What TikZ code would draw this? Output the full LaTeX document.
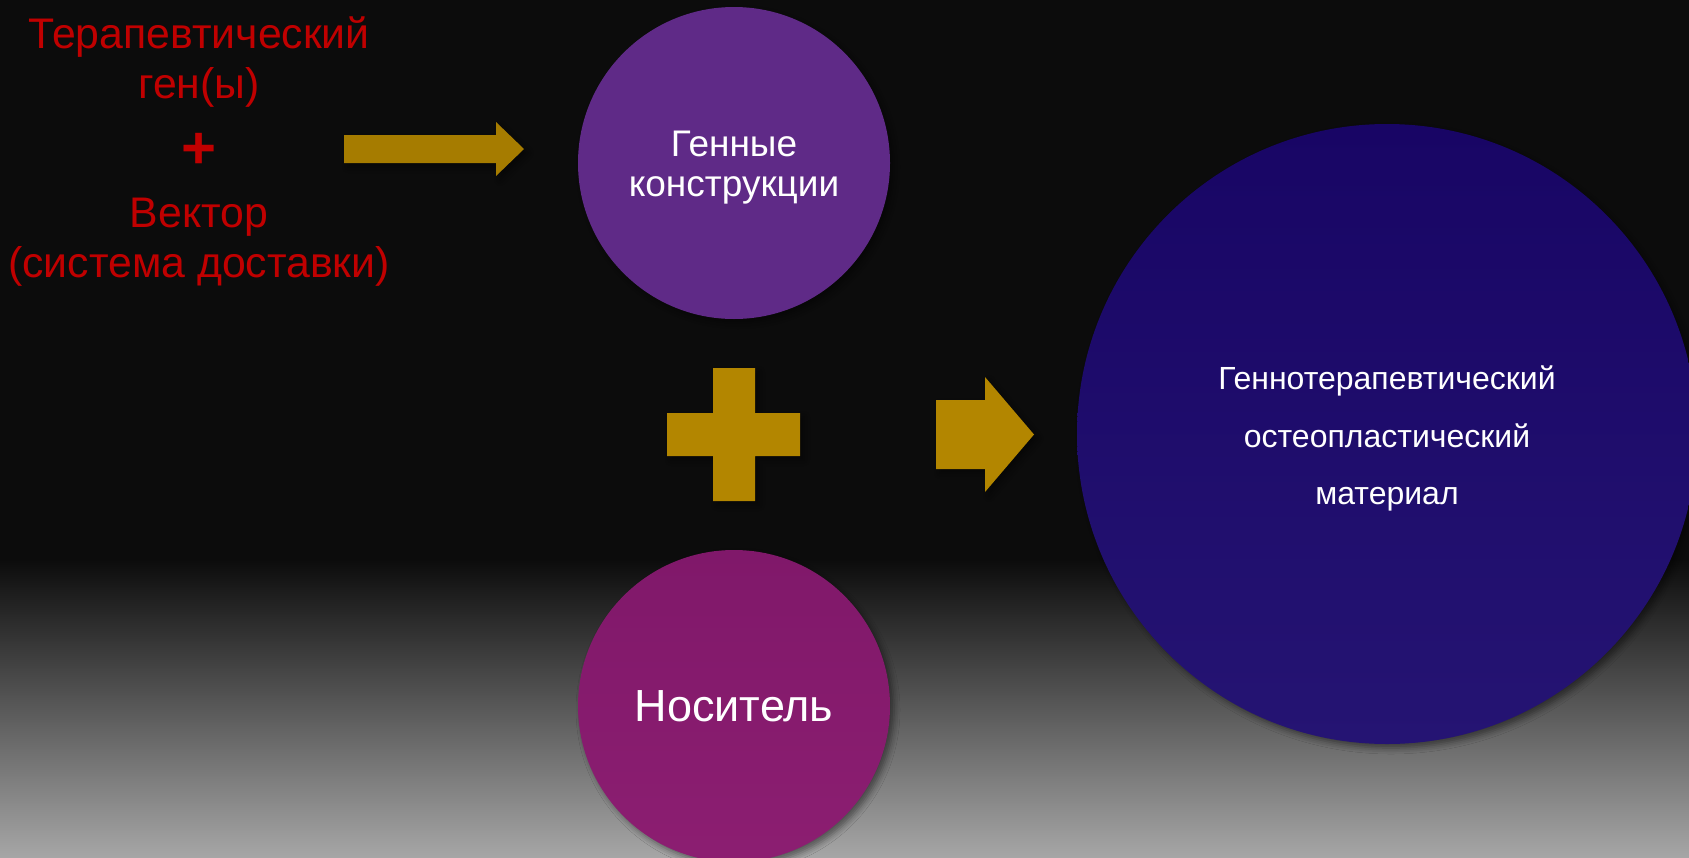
\documentclass[tikz,border=0pt]{standalone}
\usepackage{fontspec}
\setmainfont{Liberation Sans}
\usetikzlibrary{shadows.blur}
\definecolor{bgtop}{HTML}{0C0C0C}
\definecolor{bgbot}{HTML}{A6A6A6}
\definecolor{redtxt}{HTML}{C00000}
\definecolor{goldA}{HTML}{A67C00}
\definecolor{goldB}{HTML}{B38600}
\definecolor{purp}{HTML}{5F2A87}
\definecolor{magnA}{HTML}{80186A}
\definecolor{magnB}{HTML}{8C1E71}
\definecolor{navyA}{HTML}{180565}
\definecolor{navyB}{HTML}{251473}
\tikzset{
  softshadow/.style={blur shadow={shadow xshift=4pt, shadow yshift=-4pt, shadow blur radius=6pt, shadow opacity=45}},
  bubble/.style={circle, inner sep=0pt, softshadow},
  bubbletext/.style={text=white, align=center, inner sep=0pt},
  redline/.style={text=redtxt, inner sep=0pt, anchor=base, font=\fontsize{42.8}{50}\selectfont},
  blockshape/.style={softshadow}
}
\begin{document}
\begin{tikzpicture}[x=1pt,y=-1pt]
\useasboundingbox (0,0) rectangle (1689,857);
\clip (0,0) rectangle (1689,857);
% background
\fill[bgtop] (0,0) rectangle (1689,561);
\shade[top color=bgtop, bottom color=bgbot] (0,560) rectangle (1689,857);

% left red text
\node[redline] (t1) at (199,48) {Терапевтический};
\node[redline] (t2) at (199,98) {ген(ы)};
\node[text=redtxt, inner sep=0pt, anchor=base, font=\fontsize{60}{64}\selectfont\bfseries] (tplus) at (199,168) {+};
\node[redline] (v1) at (199,227) {Вектор};
\node[redline] (v2) at (199,277) {(система доставки)};

% circles
\node[bubble, minimum size=312pt, fill=purp] (gc) at (734,163) {};
\node[bubbletext, font=\fontsize{37}{40}\selectfont] (gct) at ([yshift=-4.5pt]gc.center) {Генные\\конструкции};
\node[bubble, minimum size=312pt, top color=magnA, bottom color=magnB] (nos) at (734,706) {};
\node[bubbletext, font=\fontsize{45}{50}\selectfont] (nost) at (nos.center) {Носитель};
\node[bubble, minimum size=620pt, top color=navyA, bottom color=navyB] (mat) at (1387,434) {};
\node[bubbletext, font=\fontsize{32}{57.5}\selectfont] (matt) at ([yshift=-4.5pt]mat.center) {Геннотерапевтический\\остеопластический\\материал};

% top arrow
\fill[goldA, blockshape] (344,135) -- (496,135) -- (496,122) -- (524,149) -- (496,176) -- (496,163) -- (344,163) -- cycle;
% big plus
\fill[goldB, blockshape] (713,368) -- (755,368) -- (755,413) -- (800,413) -- (800,456) -- (755,456) -- (755,501) -- (713,501) -- (713,456) -- (667,456) -- (667,413) -- (713,413) -- cycle;
% right arrow
\fill[goldB, blockshape] (936,400) -- (985,400) -- (985,377) -- (1034,434.5) -- (985,492) -- (985,469) -- (936,469) -- cycle;
\end{tikzpicture}
\end{document}
